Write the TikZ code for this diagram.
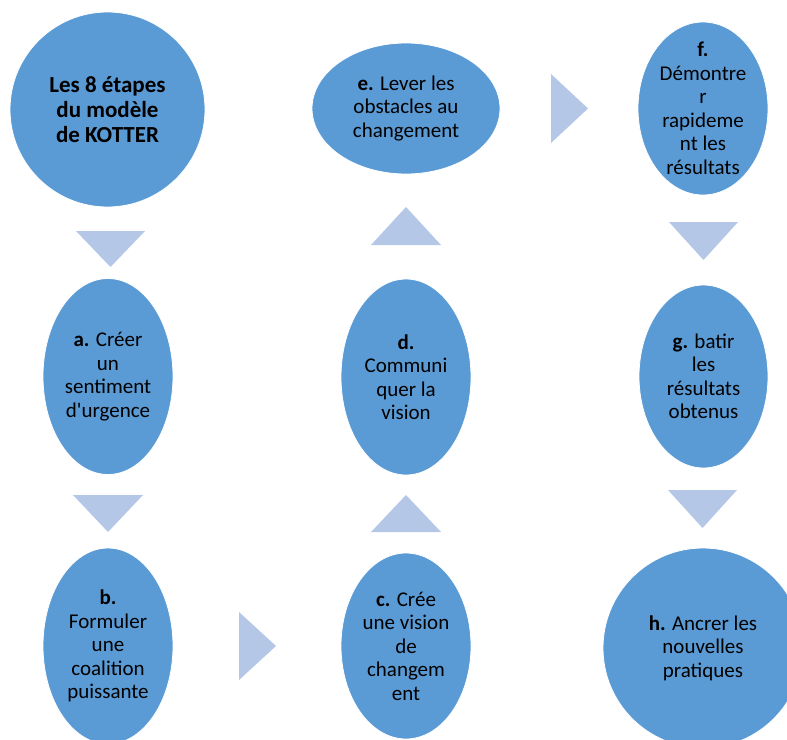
\documentclass[tikz,border=0pt]{standalone}
\usepackage{fontspec}
\setmainfont{Carlito}
\usetikzlibrary{shapes.geometric}
\definecolor{nodeblue}{HTML}{5B9BD5}
\definecolor{triblue}{HTML}{B4C7E7}
\begin{document}
\begin{tikzpicture}[x=1pt,y=-1pt,
  stepshape/.style={ellipse, fill=nodeblue, draw=white, line width=0.8pt, inner sep=0pt},
  txt/.style={align=center, font=\fontsize{21}{23.5}\selectfont, text=black, inner sep=0pt},
  tri/.style={fill=triblue}]
\useasboundingbox (0,0) rectangle (787,739);
\clip (0,0) rectangle (787,739);
% shapes
\node[stepshape, minimum width=195, minimum height=195] (title) at (107.5,109.5) {};
\node[stepshape, minimum width=188, minimum height=131] (e) at (406,108.5) {};
\node[stepshape, minimum width=130, minimum height=173] (f) at (703,108.5) {};
\node[stepshape, minimum width=130, minimum height=196] (a) at (108,376.5) {};
\node[stepshape, minimum width=130, minimum height=196] (d) at (406,377) {};
\node[stepshape, minimum width=129, minimum height=183] (g) at (703.5,376.5) {};
\node[stepshape, minimum width=130, minimum height=196] (b) at (108,646) {};
\node[stepshape, minimum width=130, minimum height=186] (c) at (406,646) {};
\node[stepshape, minimum width=200, minimum height=200] (h) at (703,648) {};
% texts
\node[txt, font=\fontsize{23}{25}\selectfont\bfseries] (titletxt) at (title) {Les 8 étapes\\du modèle\\de KOTTER};
\node[txt] (etxt) at (e) {{\bfseries e.} Lever les\\obstacles au\\changement};
\node[txt] (ftxt) at (f) {{\bfseries f.}\\Démontre\\r\\rapideme\\nt les\\résultats};
\node[txt] (atxt) at (a) {{\bfseries a.} Créer\\un\\sentiment\\d\textquotesingle urgence};
\node[txt] (dtxt) at (d) {{\bfseries d.}\\Communi\\quer la\\vision};
\node[txt] (gtxt) at (g) {{\bfseries g.} batir\\les\\résultats\\obtenus};
\node[txt] (btxt) at (b) {{\bfseries b.}\\Formuler\\une\\coalition\\puissante};
\node[txt] (ctxt) at (c) {{\bfseries c.} Crée\\une vision\\de\\changem\\ent};
\node[txt] (htxt) at (h) {{\bfseries h.} Ancrer les\\nouvelles\\pratiques};
% triangles
\fill[tri] (76,231) -- (145,231) -- (110.5,267) -- cycle;
\fill[tri] (73,495) -- (143,495) -- (108,532) -- cycle;
\fill[tri] (239,612) -- (239,680) -- (276,646) -- cycle;
\fill[tri] (371,532) -- (441,532) -- (406,495) -- cycle;
\fill[tri] (371,245) -- (441,245) -- (406,207) -- cycle;
\fill[tri] (551,74) -- (551,143) -- (588,108.5) -- cycle;
\fill[tri] (669,222) -- (738,222) -- (703.5,260) -- cycle;
\fill[tri] (668,490) -- (737,490) -- (702.5,528) -- cycle;
\end{tikzpicture}
\end{document}
